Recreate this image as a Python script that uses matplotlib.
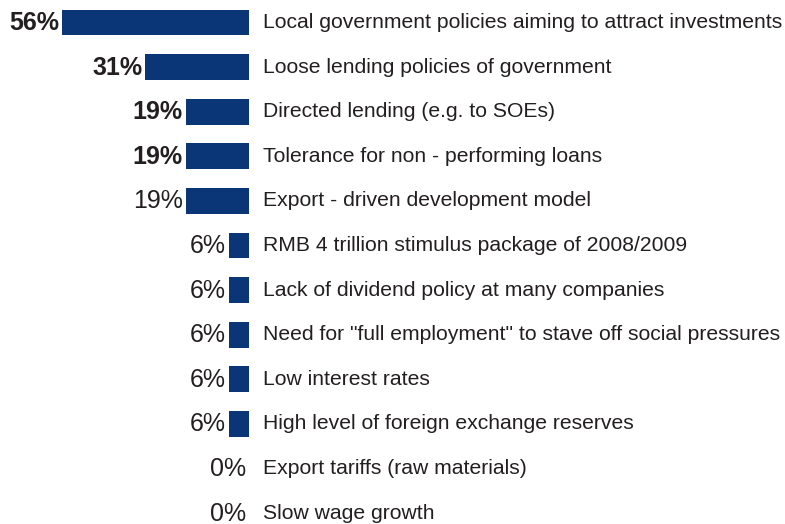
import matplotlib
matplotlib.use('Agg')
import matplotlib.pyplot as plt

categories = [
    'Local government policies aiming to attract investments',
    'Loose lending policies of government',
    'Directed lending (e.g. to SOEs)',
    'Tolerance for non - performing loans',
    'Export - driven development model',
    'RMB 4 trillion stimulus package of 2008/2009',
    'Lack of dividend policy at many companies',
    'Need for "full employment" to stave off social pressures',
    'Low interest rates',
    'High level of foreign exchange reserves',
    'Export tariffs (raw materials)',
    'Slow wage growth',
]
values = [56, 31, 19, 19, 19, 6, 6, 6, 6, 6, 0, 0]
bold_labels = [True, True, True, True, False, False, False, False, False, False, False, False]

BAR_COLOR = '#0a3577'
TEXT_COLOR = '#231f20'
plt.rcParams['font.family'] = ['Liberation Sans', 'DejaVu Sans']

fig = plt.figure(figsize=(7.85, 5.24), dpi=100)
ax = fig.add_axes([0, 0, 1, 1])

px = 3.34  # pixels per percent
ax.set_xlim(-249 / px, (785 - 249) / px)
ax.set_ylim((524 - 22.5) / 44.6, -22.5 / 44.6)

rows = list(range(len(categories)))
ax.barh(rows, [-v for v in values], height=0.58, color=BAR_COLOR)

for i, (cat, v, b) in enumerate(zip(categories, values, bold_labels)):
    ax.text(-v - 0.9, i + 0.01, f'{v}%', ha='right', va='center',
            fontsize=18, fontweight='bold' if b else 'normal', color=TEXT_COLOR)
    ax.text(4.2, i, cat, ha='left', va='center', fontsize=15.2, color=TEXT_COLOR)

ax.axis('off')
fig.savefig('out.png', dpi=100)
